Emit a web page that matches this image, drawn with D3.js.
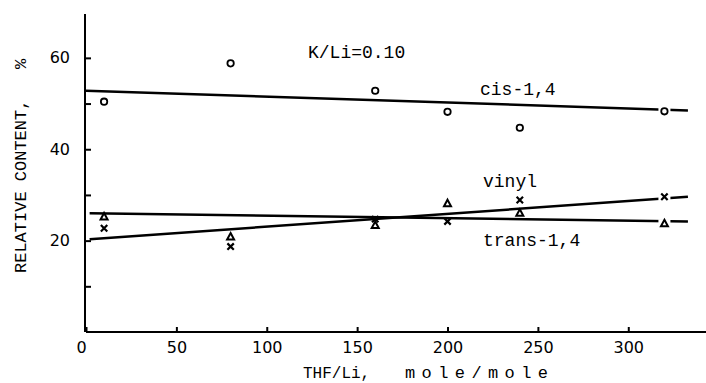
<!DOCTYPE html>
<html>
<head>
<meta charset="utf-8">
<script src="https://cdn.jsdelivr.net/npm/d3@7"></script>
<style>
  html, body { margin: 0; padding: 0; background: #fff; }
  svg { display: block; }
  .mono { font-family: "Liberation Mono", "DejaVu Sans Mono", monospace; fill: #000; }
  .tick text { font-family: "DejaVu Sans", sans-serif; font-size: 16px; fill: #000; }
</style>
</head>
<body>
<svg id="chart" width="706" height="383"></svg>
<script>
// ---- data ----
const thfLi = [10, 80, 160, 200, 240, 320];
const cisValues = [50.4, 58.8, 52.8, 48.2, 44.7, 48.3];
const vinylValues = [22.7, 18.7, 24.7, 24.2, 28.9, 29.6];
const transValues = [25.3, 20.9, 23.4, 28.2, 26.1, 23.8];

// fitted straight lines (end points)
const cisFitX = [0, 333];
const cisFitY = [52.8, 48.5];
const vinylFitX = [2, 333];
const vinylFitY = [20.3, 29.6];
const transFitX = [2, 333];
const transFitY = [26.0, 24.2];

const xTicks = [0, 50, 100, 150, 200, 250, 300];
const yTicks = [0, 10, 20, 30, 40, 50, 60];
const yLabeled = [20, 40, 60];

const annotationText = "K/Li=0.10";
const seriesNames = ["cis-1,4", "vinyl", "trans-1,4"];
const xTitleA = "THF/Li,";
const xTitleB = "mole/mole";
const yTitleA = "RELATIVE CONTENT,";
const yTitleB = "%";

// ---- scales ----
const svg = d3.select("#chart");
const x = d3.scaleLinear().domain([0, 343]).range([86, 706]);
const y = d3.scaleLinear().domain([0, 69.6]).range([332, 14]);

// ---- axes ----
const xAxis = d3.axisBottom(x).tickValues(xTicks).tickSize(-5).tickPadding(9.5).tickFormat(d3.format("d"));
const gx = svg.append("g").attr("transform", `translate(0,${y(0)})`).call(xAxis);
gx.select(".domain").attr("stroke", "#000").attr("stroke-width", 2).attr("d", `M${x(0)},0H${x(343)}`);
gx.selectAll(".tick line").attr("stroke", "#000").attr("stroke-width", 2);
gx.selectAll(".tick text").filter(d => d === 0).attr("dx", "-5");

const yAxis = d3.axisLeft(y).tickValues(yTicks).tickSize(-6).tickPadding(15)
  .tickFormat(d => yLabeled.includes(d) ? String(d) : "");
const gy = svg.append("g").attr("transform", `translate(${x(0) - 1},0)`).call(yAxis);
gy.select(".domain").attr("stroke", "#000").attr("stroke-width", 2).attr("d", `M0,${y(69.6)}V${y(0)}`);
gy.selectAll(".tick line").attr("stroke", "#000").attr("stroke-width", 2);
gy.selectAll(".tick").filter(d => d === 0).remove();

// ---- fit lines ----
const line = d3.line().x(d => x(d[0])).y(d => y(d[1]));
const fits = [
  d3.zip(cisFitX, cisFitY),
  d3.zip(vinylFitX, vinylFitY),
  d3.zip(transFitX, transFitY)
];
svg.append("g").selectAll("path").data(fits).join("path")
  .attr("d", line).attr("fill", "none").attr("stroke", "#000").attr("stroke-width", 2.5);

const lastX = d3.max(thfLi);

// white gaps at the final points
const gapPts = [
  [lastX, cisValues[thfLi.indexOf(lastX)]],
  [lastX, vinylValues[thfLi.indexOf(lastX)]],
  [lastX, transValues[thfLi.indexOf(lastX)]]
];
svg.append("g").selectAll("rect").data(gapPts).join("rect")
  .attr("x", d => x(d[0]) - 6).attr("y", d => y(d[1]) - 4)
  .attr("width", 12).attr("height", 8).attr("fill", "#fff");

// ---- markers ----
// cis: open circles
svg.append("g").selectAll("circle").data(d3.zip(thfLi, cisValues)).join("circle")
  .attr("cx", d => x(d[0])).attr("cy", d => y(d[1])).attr("r", 3.2)
  .attr("fill", "#fff").attr("stroke", "#000").attr("stroke-width", 1.8);

// vinyl: crosses
const crossPath = "M-3.2,-3.2L3.2,3.2M3.2,-3.2L-3.2,3.2";
svg.append("g").selectAll("path").data(d3.zip(thfLi, vinylValues)).join("path")
  .attr("transform", d => `translate(${x(d[0])},${y(d[1])})`)
  .attr("d", crossPath).attr("stroke", "#000").attr("stroke-width", 2.2).attr("fill", "none");

// trans: open triangles
const triPath = "M0,-3.5L3.5,3L-3.5,3Z";
svg.append("g").selectAll("path").data(d3.zip(thfLi, transValues)).join("path")
  .attr("transform", d => `translate(${x(d[0])},${y(d[1])})`)
  .attr("d", triPath).attr("stroke", "#000").attr("stroke-width", 2).attr("fill", "#fff");

// ---- labels ----
svg.append("text").attr("class", "mono").attr("x", 308).attr("y", 58)
  .style("font-size", "18px").text(annotationText);
svg.append("text").attr("class", "mono").attr("x", 480).attr("y", 95)
  .style("font-size", "18px").text(seriesNames[0]);
svg.append("text").attr("class", "mono").attr("x", 483).attr("y", 187)
  .style("font-size", "18px").text(seriesNames[1]);
svg.append("text").attr("class", "mono").attr("x", 483).attr("y", 246)
  .style("font-size", "18px").text(seriesNames[2]);

// axis titles
svg.append("text").attr("class", "mono").attr("x", 303).attr("y", 378)
  .style("font-size", "16px").text(xTitleA);
svg.append("text").attr("class", "mono").attr("x", 405).attr("y", 378)
  .attr("textLength", 143).attr("lengthAdjust", "spacing")
  .style("font-size", "17px").text(xTitleB);

const yt = svg.append("g").attr("transform", "translate(26,0) rotate(-90)");
yt.append("text").attr("class", "mono").attr("x", -273).attr("y", 0)
  .style("font-size", "17px").text(yTitleA);
yt.append("text").attr("class", "mono").attr("x", -64).attr("y", 0)
  .attr("text-anchor", "middle").style("font-size", "17px").text(yTitleB);
</script>
</body>
</html>
